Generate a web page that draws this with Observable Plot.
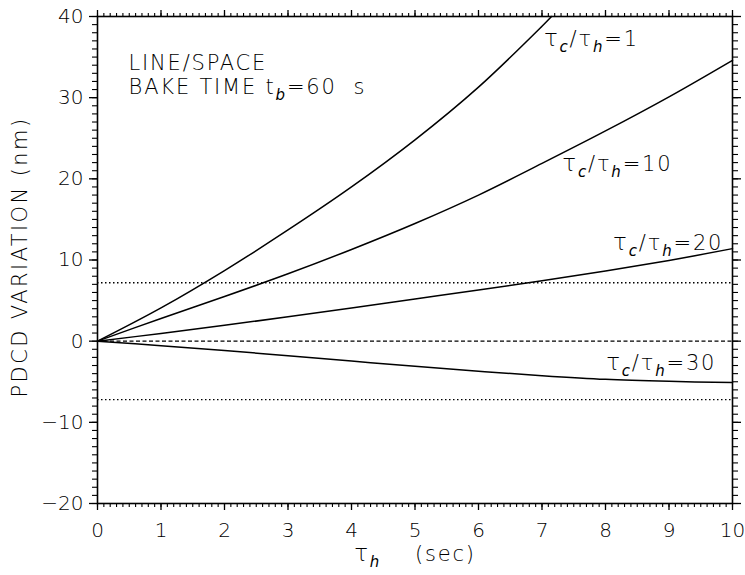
<!DOCTYPE html>
<html>
<head>
<meta charset="utf-8">
<script src="https://cdn.jsdelivr.net/npm/d3@7"></script>
<script src="https://cdn.jsdelivr.net/npm/@observablehq/plot@0.6"></script>
<style>
  html, body { margin: 0; padding: 0; background: white; }
</style>
</head>
<body>
<div id="chart"></div>
<script>
// ---- data ----
const tauH = [0, 1, 2, 3, 4, 5, 6, 7, 8, 9, 10];
const ratio1X = [0, 1, 2, 3, 4, 5, 6, 7, 7.15];
const ratio1 = [0, 4.1, 8.7, 13.7, 19.0, 24.8, 31.3, 38.8, 40];
const ratio10 = [0, 2.8, 5.5, 8.3, 11.3, 14.5, 18.0, 21.9, 25.9, 30.1, 34.6];
const ratio20 = [0, 0.95, 1.95, 3.0, 4.1, 5.2, 6.3, 7.45, 8.65, 9.95, 11.4];
const ratio30 = [0, -0.55, -1.15, -1.8, -2.45, -3.1, -3.7, -4.25, -4.7, -4.95, -5.1];
const limitLines = [7.2, -7.2];
const zeroLine = [0];

const xMajor = d3.range(0, 11, 1);
const xMinor = d3.range(0, 101, 1).map(d => d / 10);
const yMajor = [-20, -10, 0, 10, 20, 30, 40];
const yMinor = d3.range(-20, 41, 1);

const curveLabels = ["τ_c/τ_h=1", "τ_c/τ_h=10", "τ_c/τ_h=20", "τ_c/τ_h=30"];
const curveLabelX = [7.03, 7.32, 8.12, 8.01];
const curveLabelY = [37.2, 21.8, 12.1, -2.75];
const noteLines = ["LINE/SPACE", "BAKE TIME t_b=60\u00a0\u00a0s"];
const noteX = [0.49, 0.49];
const noteY = [34.2, 31.3];
const xLabel = "τ_h\u00a0\u00a0\u00a0\u00a0(sec)";
const yLabel = "PDCD VARIATION (nm)";

// tidy tables built from the arrays
const series = [
  ...ratio1.map((v, i) => ({x: ratio1X[i], y: v, s: "1"})),
  ...ratio10.map((v, i) => ({x: tauH[i], y: v, s: "10"})),
  ...ratio20.map((v, i) => ({x: tauH[i], y: v, s: "20"})),
  ...ratio30.map((v, i) => ({x: tauH[i], y: v, s: "30"}))
];
const curveLabelData = curveLabels.map((t, i) => ({t, x: curveLabelX[i], y: curveLabelY[i]}));
const noteData = noteLines.map((t, i) => ({t, x: noteX[i], y: noteY[i]}));

const fmt = d3.format("d");
const blank = () => "";

const chart = Plot.plot({
  width: 745,
  height: 575,
  marginLeft: 97,
  marginRight: 13,
  marginTop: 16,
  marginBottom: 72,
  x: {domain: [0, 10]},
  y: {domain: [-20, 40]},
  style: {fontFamily: "DejaVu Sans", fontSize: "20px", fontWeight: 300, color: "black", background: "white"},
  marks: [
    Plot.ruleY(limitLines, {stroke: "black", strokeWidth: 1.3, strokeDasharray: "1.5,2.5"}),
    Plot.ruleY(zeroLine, {stroke: "black", strokeWidth: 1.3, strokeDasharray: "4,2.5"}),
    Plot.line(series, {x: "x", y: "y", z: "s", stroke: "black", strokeWidth: 1.5, curve: "catmull-rom"}),
    // axes: major + minor ticks on all four sides, outward
    Plot.axisX(xMajor, {anchor: "bottom", tickSize: 7, tickFormat: blank, label: null, strokeWidth: 1.3}),
    Plot.text(xMajor, {x: d => d, frameAnchor: "bottom", dy: 27, text: d => fmt(d), textAnchor: "middle", lineAnchor: "middle", fill: "black", fontSize: 20}),
    Plot.axisX(xMinor, {anchor: "bottom", tickSize: 4, tickFormat: blank, label: null, strokeWidth: 1.1}),
    Plot.axisX(xMajor, {anchor: "top", tickSize: 7, tickFormat: blank, label: null, strokeWidth: 1.3}),
    Plot.axisX(xMinor, {anchor: "top", tickSize: 4, tickFormat: blank, label: null, strokeWidth: 1.1}),
    Plot.axisY(yMajor, {anchor: "left", tickSize: 8, tickPadding: 6, tickFormat: fmt, label: null, strokeWidth: 1.3}),
    Plot.axisY(yMinor, {anchor: "left", tickSize: 5, tickFormat: blank, label: null, strokeWidth: 1.1}),
    Plot.axisY(yMajor, {anchor: "right", tickSize: 8, tickFormat: blank, label: null, strokeWidth: 1.3}),
    Plot.axisY(yMinor, {anchor: "right", tickSize: 5, tickFormat: blank, label: null, strokeWidth: 1.1}),
    Plot.frame({stroke: "black", strokeWidth: 1.6}),
    // annotations
    Plot.text(curveLabelData, {x: "x", y: "y", text: "t", textAnchor: "start", lineAnchor: "middle", fill: "black", fontSize: 21}),
    Plot.text(noteData, {x: "x", y: "y", text: "t", textAnchor: "start", lineAnchor: "middle", fill: "black", fontSize: 21}),
    Plot.text([xLabel], {frameAnchor: "bottom", textAnchor: "middle", dy: 51, lineAnchor: "middle", fill: "black", fontSize: 21}),
    Plot.text([yLabel], {frameAnchor: "left", textAnchor: "middle", dx: -77, dy: -3, rotate: -90, lineAnchor: "middle", fill: "black", fontSize: 21})
  ]
});

// wider letter spacing for the annotation texts (not the tick labels)
const annot = new Set([...curveLabels, ...noteLines, xLabel, yLabel]);
d3.select(chart).selectAll('g[aria-label="text"] text').filter(function() {
  return annot.has(this.textContent);
}).style("letter-spacing", function() {
  return this.textContent === yLabel ? "2.4px" : "1.8px";
});

// turn "_x" markup into real subscript tspans
d3.select(chart).selectAll("text").each(function() {
  const t = this.textContent;
  if (!t || !t.includes("_")) return;
  const parts = [];
  let buf = "";
  for (let i = 0; i < t.length; i++) {
    if (t[i] === "_" && i + 1 < t.length) {
      if (buf) parts.push({s: buf, sub: false});
      buf = "";
      parts.push({s: t[i + 1], sub: true});
      i++;
    } else buf += t[i];
  }
  if (buf) parts.push({s: buf, sub: false});
  const sel = d3.select(this);
  sel.text(null);
  let shifted = false;
  parts.forEach(p => {
    const ts = sel.append("tspan").text(p.s);
    if (p.sub) {
      ts.attr("font-size", "15px").attr("font-style", "italic");
      if (!shifted) { ts.attr("dy", 6); shifted = true; }
    } else {
      if (p.s.startsWith("τ")) ts.attr("font-size", "23px");
      if (shifted) { ts.attr("dy", -6); shifted = false; }
    }
  });
});

document.getElementById("chart").appendChild(chart);
</script>
</body>
</html>
